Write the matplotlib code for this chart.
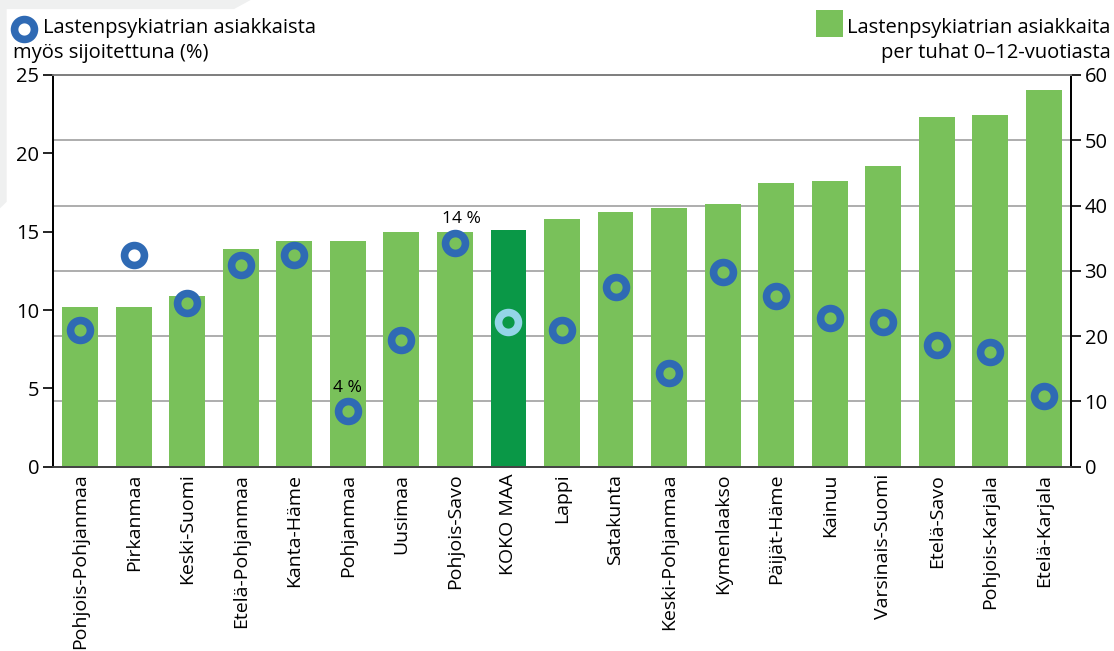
import matplotlib.pyplot as plt
from matplotlib.patches import Polygon

plt.rcParams['font.family'] = ['Open Sans', 'DejaVu Sans']

alueet = ['Pohjois-Pohjanmaa', 'Pirkanmaa', 'Keski-Suomi', 'Etelä-Pohjanmaa',
          'Kanta-Häme', 'Pohjanmaa', 'Uusimaa', 'Pohjois-Savo', 'KOKO MAA',
          'Lappi', 'Satakunta', 'Keski-Pohjanmaa', 'Kymenlaakso', 'Päijät-Häme',
          'Kainuu', 'Varsinais-Suomi', 'Etelä-Savo', 'Pohjois-Karjala', 'Etelä-Karjala']

# asiakkaita per tuhat 0-12-vuotiasta (oikea akseli)
asiakkaat = [24.5, 24.5, 26.2, 33.3, 34.5, 34.6, 35.9, 36.0, 36.2,
             38.0, 39.0, 39.7, 40.3, 43.5, 43.8, 46.0, 53.5, 53.8, 57.7]

# asiakkaista myös sijoitettuna % (vasen akseli)
sijoitettu = [8.7, 13.5, 10.45, 12.85, 13.5, 3.56, 8.1, 14.3, 9.25,
              8.75, 11.5, 6.0, 12.4, 10.9, 9.5, 9.25, 7.75, 7.3, 4.5]

vihrea = '#79c15a'
tumma = '#0a9847'
sininen = '#2f6ab4'
vaalea = '#93d5e8'

fig = plt.figure(figsize=(11.14, 6.51), dpi=100)
fig.patches.append(Polygon([[0, 1], [0.225, 1], [0.21, 0.986], [0.006, 0.986],
                            [0.006, 0.69], [0, 0.68]], closed=True,
                           transform=fig.transFigure, facecolor='#eff0f0',
                           edgecolor='none', zorder=-10))

ax = fig.add_axes([0.0479, 0.2831, 0.9132, 0.6017])
ax2 = ax.twinx()
ax.set_zorder(ax2.get_zorder() + 1)
ax.patch.set_visible(False)

x = list(range(len(alueet)))
varit = [tumma if a == 'KOKO MAA' else vihrea for a in alueet]
ax2.bar(x, asiakkaat, width=0.67, color=varit, zorder=2)
ax2.set_ylim(0, 60)
ax2.set_yticks(range(0, 61, 10))
ax2.yaxis.grid(True, color='#a0a0a0', linewidth=1.2, zorder=0)
ax2.set_axisbelow(True)

rengas = dict(markersize=14.3, markerfacecolor='none', markeredgewidth=5.5)
for i, v in enumerate(sijoitettu):
    reuna = vaalea if alueet[i] == 'KOKO MAA' else sininen
    ax.plot(i, v, 'o', markeredgecolor=reuna, zorder=3, **rengas)

i4 = alueet.index('Pohjanmaa')
i14 = alueet.index('Pohjois-Savo')
ax.annotate('4 %', (i4, sijoitettu[i4]), xytext=(0, 11), textcoords='offset points',
            ha='center', va='bottom', fontsize=12.5)
ax.annotate('14 %', (i14, sijoitettu[i14]), xytext=(5, 11), textcoords='offset points',
            ha='center', va='bottom', fontsize=12.5)

ax.set_ylim(0, 25)
ax.set_yticks(range(0, 26, 5))
ax.set_xlim(-0.5, len(alueet) - 0.5)
ax.set_xticks(x)
ax.set_xticklabels(alueet, rotation=90, fontsize=14)
ax.tick_params(axis='x', length=0, pad=5)
ax.tick_params(axis='y', labelsize=14.5, length=7, width=1.2, pad=3)
ax2.tick_params(axis='y', labelsize=14.5, length=7, width=1.2, pad=3)

for a in (ax, ax2):
    a.spines['left'].set_color('black')
    a.spines['right'].set_color('black')
    a.spines['top'].set_color('#808080')
    a.spines['bottom'].set_color('#444444')
    for s in a.spines.values():
        s.set_linewidth(1.3)

# selitteet
ax.plot([0.0213], [0.955], 'o', transform=fig.transFigure, markeredgecolor=sininen,
        clip_on=False, **rengas)
fig.text(0.039, 0.957, 'Lastenpsykiatrian asiakkaista', fontsize=14.5, va='center')
fig.text(0.012, 0.918, 'myös sijoitettuna (%)', fontsize=14.5, va='center')

fig.patches.append(plt.Rectangle((0.7325, 0.943), 0.0245, 0.042,
                                 transform=fig.transFigure, facecolor=vihrea,
                                 edgecolor='none'))
fig.text(0.997, 0.957, 'Lastenpsykiatrian asiakkaita', fontsize=14.5, va='center', ha='right')
fig.text(0.997, 0.918, 'per tuhat 0\u201312-vuotiasta', fontsize=14.5, va='center', ha='right')

fig.savefig('out.png', dpi=100)
